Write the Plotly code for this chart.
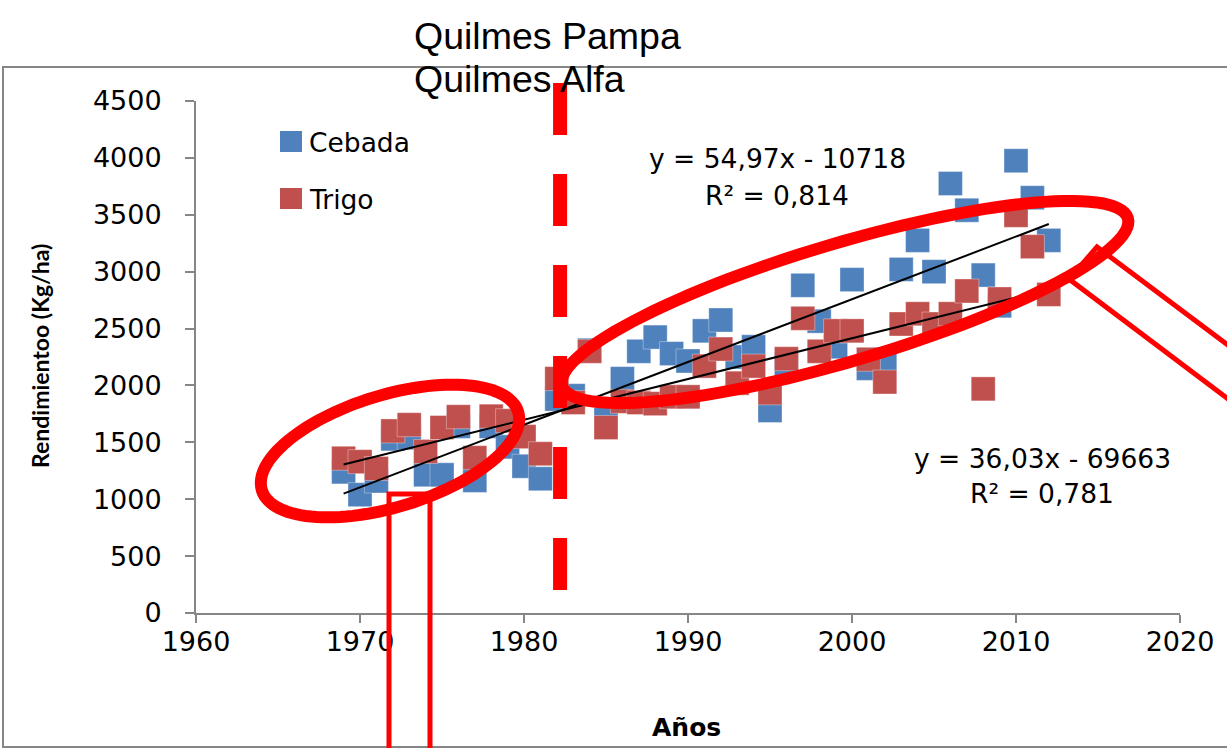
import numpy as np
import plotly.graph_objects as go

# ---------------- data ----------------
years = list(range(1969, 2013))
cebada = [1240, 1040, 1160, 1530, 1540, 1215, 1215, 1640, 1165, 1640, 1460, 1290, 1180,
          1880, 1910, 2310, 1700, 2060, 2300, 2425, 2280, 2215, 2480, 2575, 2250, 2340,
          1780, 2190, 2880, 2565, 2340, 2930, 2150, 2230, 3020, 3275, 3000, 3775, 3540,
          2970, 2700, 3975, 3650, 3275]
trigo = [1360, 1330, 1270, 1600, 1655, 1420, 1630, 1725, 1365, 1730, 1690, 1550, 1400,
         2060, 1850, 2300, 1630, 1860, 1850, 1840, 1900, 1900, 2170, 2320, 2020, 2170,
         1935, 2235, 2590, 2300, 2480, 2480, 2230, 2030, 2540, 2630, 2540, 2630, 2830,
         1970, 2760, 3495, 3220, 2800]
series_names = ["Cebada", "Trigo"]
x_ticks = [1960, 1970, 1980, 1990, 2000, 2010, 2020]
y_ticks = [0, 500, 1000, 1500, 2000, 2500, 3000, 3500, 4000, 4500]
eq_cebada = ["y = 54,97x - 10718", "R² = 0,814"]
eq_trigo = ["y = 36,03x - 69663", "R² = 0,781"]
top_labels = ["Quilmes Pampa", "Quilmes Alfa"]
divider_year = 1982.2

BLUE = "#4F81BD"
RED = "#C0504D"
ALERT = "#FF0000"
AXIS = "#868686"

W, H = 1227, 748
PL, PR, PT, PB = 196, 1180, 101, 613   # plot area in pixels


def px(x):
    return (x - PL) / (PR - PL)


def py(y):
    return (PB - y) / (PB - PT)


fig = go.Figure()

for name, vals, col in [(series_names[0], cebada, BLUE), (series_names[1], trigo, RED)]:
    fig.add_trace(go.Scatter(
        x=years, y=vals, mode="markers", name=name, showlegend=False,
        marker=dict(symbol="square", size=24, color=col,
                    line=dict(width=1, color="rgba(255,255,255,0.35)")),
        hoverinfo="x+y"))

# linear trend lines
for vals in (cebada, trigo):
    k, b = np.polyfit(years, vals, 1)
    xs = [years[0], years[-1]]
    fig.add_trace(go.Scatter(x=xs, y=[k * v + b for v in xs], mode="lines",
                             line=dict(color="black", width=2), showlegend=False,
                             hoverinfo="skip"))

shapes = []
# chart border
shapes.append(dict(type="path", xref="paper", yref="paper",
                   path=f"M {px(W+5)},{py(67)} L {px(3)},{py(67)} L {px(3)},{py(747)} L {px(W+5)},{py(747)}",
                   line=dict(color=AXIS, width=2), layer="below"))

# legend squares
for i, col in enumerate([BLUE, RED]):
    y0 = 131 + i * 57
    shapes.append(dict(type="rect", xref="paper", yref="paper",
                       x0=px(280), x1=px(302), y0=py(y0), y1=py(y0 + 21),
                       fillcolor=col, line=dict(width=0)))

# callout (right) - rectangle partly hidden under the ellipse
shapes.append(dict(type="path", xref="paper", yref="paper",
                   path=(f"M {px(1240)},{py(354)} L {px(1097)},{py(247)} "
                         f"L {px(1069)},{py(279)} L {px(1240)},{py(408)}"),
                   line=dict(color=ALERT, width=5), layer="above"))
# callout (bottom) rectangle
shapes.append(dict(type="path", xref="paper", yref="paper",
                   path=(f"M {px(389)},{py(760)} L {px(389)},{py(494)} "
                         f"L {px(430)},{py(494)} L {px(430)},{py(760)}"),
                   line=dict(color=ALERT, width=5), layer="above"))


def ellipse_path(cx, cy, a, b, deg, n=120):
    th = np.radians(deg)
    pts = []
    for t in np.linspace(0, 2 * np.pi, n, endpoint=False):
        ex = cx + a * np.cos(t) * np.cos(th) - b * np.sin(t) * np.sin(th)
        ey = cy - (a * np.cos(t) * np.sin(th) + b * np.sin(t) * np.cos(th))
        pts.append(f"{px(ex):.5f},{py(ey):.5f}")
    return "M " + " L ".join(pts) + " Z"


shapes.append(dict(type="path", xref="paper", yref="paper",
                   path=ellipse_path(390, 451, 134, 56, 17),
                   line=dict(color=ALERT, width=12), layer="above"))
shapes.append(dict(type="path", xref="paper", yref="paper",
                   path=ellipse_path(845, 302, 295, 59, 16.5),
                   line=dict(color=ALERT, width=12), layer="above"))

# dashed divider (drawn from the top down so the dash pattern starts at the top)
shapes.append(dict(type="line", xref="x", yref="paper",
                   x0=divider_year, x1=divider_year, y0=py(83), y1=py(600),
                   line=dict(color=ALERT, width=14, dash="52px,39px"), layer="above"))

FONT = "DejaVu Sans"
FS = 26.5
ann = []
ann.append(dict(xref="paper", yref="paper", x=px(307), y=py(142), text=series_names[0],
                showarrow=False, xanchor="left", yanchor="middle",
                font=dict(family=FONT, size=FS, color="black")))
ann.append(dict(xref="paper", yref="paper", x=px(307), y=py(199), text=series_names[1],
                showarrow=False, xanchor="left", yanchor="middle",
                font=dict(family=FONT, size=FS, color="black")))
for txt, cx, cy in [(eq_cebada[0], 777, 158), (eq_cebada[1], 777, 195),
                    (eq_trigo[0], 1042, 458), (eq_trigo[1], 1042, 493)]:
    ann.append(dict(xref="paper", yref="paper", x=px(cx), y=py(cy), text=txt,
                    showarrow=False, xanchor="center", yanchor="middle",
                    font=dict(family=FONT, size=FS, color="black")))
for txt, cy in [(top_labels[0], 36), (top_labels[1], 79)]:
    ann.append(dict(xref="paper", yref="paper", x=px(412), y=py(cy), text=txt,
                    showarrow=False, xanchor="left", yanchor="middle",
                    font=dict(family="Liberation Sans", size=37.5, color="black")))
ann.append(dict(xref="paper", yref="paper", x=px(686), y=py(727), text="<b>Años</b>",
                showarrow=False, xanchor="center", yanchor="middle",
                font=dict(family=FONT, size=25, color="black")))
ann.append(dict(xref="paper", yref="paper", x=px(40), y=py(356),
                text="<b>Rendimientoo (Kg/ha)</b>", textangle=-90,
                showarrow=False, xanchor="center", yanchor="middle",
                font=dict(family="Lato", size=23, color="black")))

fig.update_layout(
    width=W, height=H, autosize=False,
    margin=dict(l=PL, r=W - PR, t=PT, b=H - PB, pad=0),
    paper_bgcolor="white", plot_bgcolor="white",
    shapes=shapes, annotations=ann, showlegend=False,
    xaxis=dict(range=[1960, 2020], tickvals=x_ticks, ticktext=[str(v) for v in x_ticks],
               showgrid=False, zeroline=False, showline=True, linecolor=AXIS, linewidth=2,
               ticks="outside", ticklen=8, tickwidth=2, tickcolor=AXIS,
               tickfont=dict(family=FONT, size=27, color="black"), ticklabelstandoff=-4),
    yaxis=dict(range=[0, 4500], tickvals=y_ticks, ticktext=[str(v) for v in y_ticks],
               showgrid=False, zeroline=False, showline=True, linecolor=AXIS, linewidth=2,
               ticks="outside", ticklen=9, tickwidth=2, tickcolor=AXIS,
               tickfont=dict(family=FONT, size=27, color="black"), ticklabelstandoff=18),
)

fig.write_html("out.html", config={"displayModeBar": False},
               post_script="document.body.style.margin='0';document.body.style.overflow='hidden';")
